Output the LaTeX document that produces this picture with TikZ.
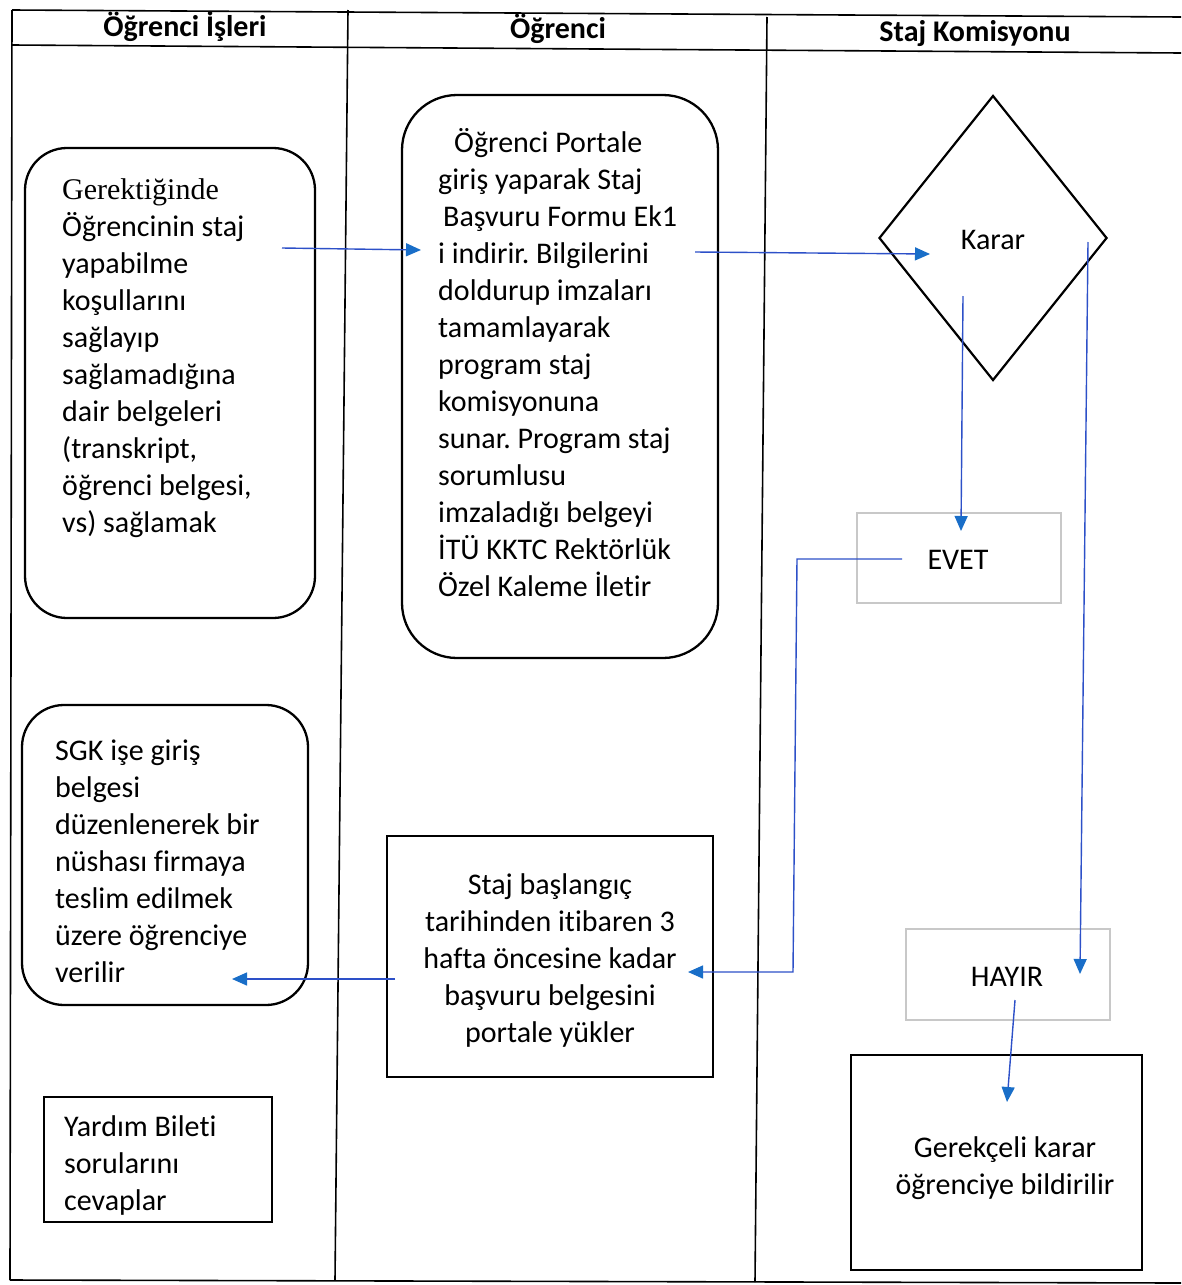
\documentclass[tikz,border=0pt]{standalone}
\usepackage{fontspec}
\setmainfont{Carlito}[Ligatures=NoCommon]
\newfontfamily\gserif{Liberation Serif}
\usetikzlibrary{arrows.meta,shapes.geometric}
\definecolor{lineblue}{RGB}{45,80,200}
\definecolor{tipblue}{RGB}{25,110,200}
\definecolor{lightgray}{RGB}{200,200,200}
\frenchspacing
\begin{document}
\begin{tikzpicture}[x=1pt,y=-1pt,
  frame/.style={line width=1.6pt,black},
  rbox/.style={draw,line width=2.3pt,rounded corners=42pt,inner sep=0pt},
  sbox/.style={draw,line width=2.2pt,inner sep=0pt},
  gbox/.style={draw=lightgray,line width=2pt,inner sep=0pt},
  dbox/.style={draw,line width=2.2pt,diamond,aspect=0.8,inner sep=0pt},
  txt/.style={inner sep=0pt,font=\fontsize{30}{37}\selectfont},
  head/.style={inner sep=0pt,font=\fontsize{30}{34}\selectfont\bfseries},
  flow/.style={draw=lineblue,line width=1.4pt,-{Triangle[length=15pt,width=13pt,color=tipblue]}}
]
\useasboundingbox (0,0) rectangle (1181,1285);
\fill[white] (0,0) rectangle (1181,1285);

% frame and lanes
\coordinate (tl) at (12,10);
\coordinate (tr) at (1181,17);
\coordinate (hl) at (12,45);
\coordinate (hr) at (1181,53);
\coordinate (bl) at (10,1280);
\coordinate (br) at (1181,1283);
\coordinate (c1t) at (348,10);
\coordinate (c1b) at (335,1280);
\coordinate (c2t) at (767,17);
\coordinate (c2b) at (755,1282);
\draw[frame] (tl) -- (tr);
\draw[frame] (hl) -- (hr);
\draw[frame] (bl) -- (br);
\draw[frame] (tl) -- (bl);
\draw[frame] (c1t) -- (c1b);
\draw[frame] (c2t) -- (c2b);

\node[head] (h1) at (185,26) {Öğrenci İşleri};
\node[head] (h2) at (558,29) {Öğrenci};
\node[head] (h3) at (975,34) {Staj Komisyonu};

% boxes
\node[rbox,minimum width=290pt,minimum height=470pt] (b1) at (170,383) {};
\node[txt,anchor=west,align=left] (t1) at (62,358) {{\gserif Gerektiğinde}\\Öğrencinin staj\\yapabilme\\koşullarını\\sağlayıp\\sağlamadığına\\dair belgeleri\\(transkript,\\öğrenci belgesi,\\vs) sağlamak};

\node[rbox,rounded corners=55pt,minimum width=316pt,minimum height=563pt] (b2) at (560,376.5) {};
\node[txt,anchor=west,align=left] (t2) at (438,363) {\hspace*{16pt}Öğrenci Portale\\giriş yaparak Staj\\\hspace*{5pt}Başvuru Formu Ek1\\i indirir. Bilgilerini\\doldurup imzaları\\tamamlayarak\\program staj\\komisyonuna\\sunar. Program staj\\sorumlusu\\imzaladığı belgeyi\\İTÜ KKTC Rektörlük\\Özel Kaleme İletir};

\node[dbox,minimum width=228pt,minimum height=285pt] (d) at (993,238) {};
\node[txt] (tk) at (993,240) {Karar};

\node[gbox,minimum width=204pt,minimum height=90pt] (evet) at (959,558) {};
\node[txt] (te) at (958,560) {EVET};

\node[gbox,minimum width=204pt,minimum height=91pt] (hayir) at (1008,974.5) {};
\node[txt] (th) at (1007,977) {HAYIR};

\node[sbox,minimum width=291pt,minimum height=215pt] (ger) at (996.5,1162.5) {};
\node[txt,align=center] (tg) at (1005,1168) {Gerekçeli karar\\öğrenciye bildirilir};

\node[sbox,minimum width=326pt,minimum height=241pt] (staj) at (550,956.5) {};
\node[txt,align=center] (ts) at (550,960) {Staj başlangıç\\tarihinden itibaren 3\\hafta öncesine kadar\\başvuru belgesini\\portale yükler};

\node[rbox,minimum width=286pt,minimum height=300pt] (sgk) at (165,855) {};
\node[txt,anchor=west,align=left] (tsg) at (55,861) {SGK işe giriş\\belgesi\\düzenlenerek bir\\nüshası firmaya\\teslim edilmek\\üzere öğrenciye\\verilir};

\node[sbox,line width=1.8pt,minimum width=228pt,minimum height=125pt] (yard) at (158,1159.5) {};
\node[txt,anchor=west,align=left] (ty) at (64,1165) {Yardım Bileti\\sorularını\\cevaplar};

% connectors
\coordinate (a1s) at (282,248);
\coordinate (a1e) at (421,250);
\coordinate (a2s) at (695,252);
\coordinate (a2e) at (930,254);
\coordinate (a3s) at (963,296);
\coordinate (a3e) at (961,531);
\coordinate (a4s) at (1088,242);
\coordinate (a4e) at (1080,974);
\coordinate (a5s) at (902,559);
\coordinate (a5m) at (797,559);
\coordinate (a5n) at (793,972);
\coordinate (a5e) at (688,972);
\coordinate (a6s) at (395,979);
\coordinate (a6e) at (232,979);
\coordinate (a7s) at (1015,1000);
\coordinate (a7e) at (1007,1102);

\draw[flow] (a1s) -- (a1e);
\draw[flow] (a2s) -- (a2e);
\draw[flow] (a3s) -- (a3e);
\draw[flow] (a4s) -- (a4e);
\draw[flow] (a5s) -- (a5m) -- (a5n) -- (a5e);
\draw[flow] (a6s) -- (a6e);
\draw[flow] (a7s) -- (a7e);
\end{tikzpicture}
\end{document}
